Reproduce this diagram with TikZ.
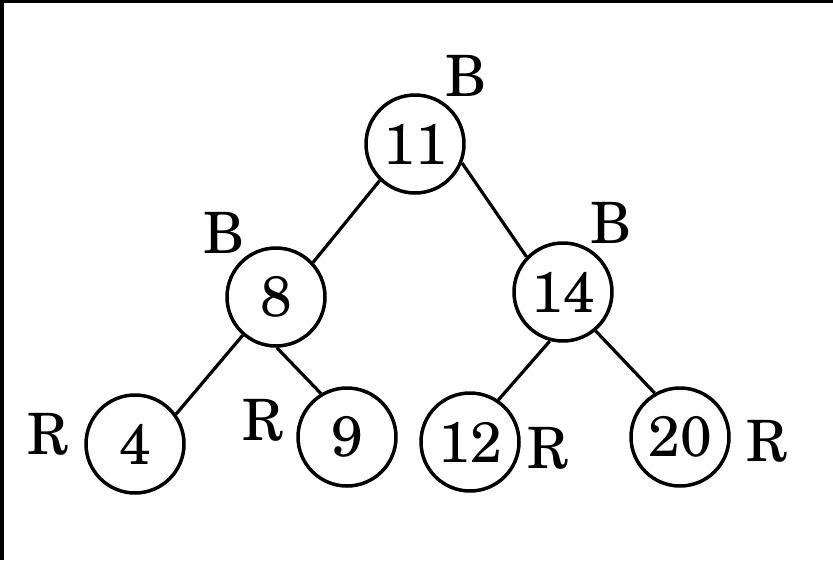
\documentclass[tikz,border=0pt]{standalone}
\usepackage{fontspec}
\setmainfont{TeX Gyre Schola}
\begin{document}
\begin{tikzpicture}[x=1pt,y=-1pt,
  rb/.style={circle,draw,line width=3.5pt,minimum size=98pt,inner sep=0pt,font=\fontsize{57}{62}\selectfont},
  lbl/.style={inner sep=0pt,font=\fontsize{57}{62}\selectfont},
  edge/.style={line width=3.2pt}]
\useasboundingbox (0,0) rectangle (833,560);
\fill[black] (0,0) rectangle (833,3);
\fill[black] (0,0) rectangle (4,560);
\node[rb] (n11) at (415,144) {11};
\node[rb] (n8) at (276,297) {8};
\node[rb] (n14) at (563,292) {14};
\node[rb] (n4) at (135,444) {4};
\node[rb] (n9) at (347,437) {9};
\node[rb] (n12) at (470,442) {12};
\node[rb] (n20) at (680,437) {20};
\node[lbl] (b11) at (466,76) {B};
\node[lbl] (b8) at (224,233) {B};
\node[lbl] (b14) at (611,223) {B};
\node[lbl] (r4) at (48,434) {R};
\node[lbl] (r9) at (263,420) {R};
\node[lbl] (r12) at (548,448) {R};
\node[lbl] (r20) at (767,441) {R};
\draw[edge] (n11.226) -- (n8.43);
\draw[edge] (n11.-22) -- (n14.136);
\draw[edge] (n8.229) -- (n4.36);
\draw[edge] (n8.271) -- (n9.121);
\draw[edge] (n14.255) -- (n12.56);
\draw[edge] (n14.-50) -- (n20.120);
\end{tikzpicture}
\end{document}
